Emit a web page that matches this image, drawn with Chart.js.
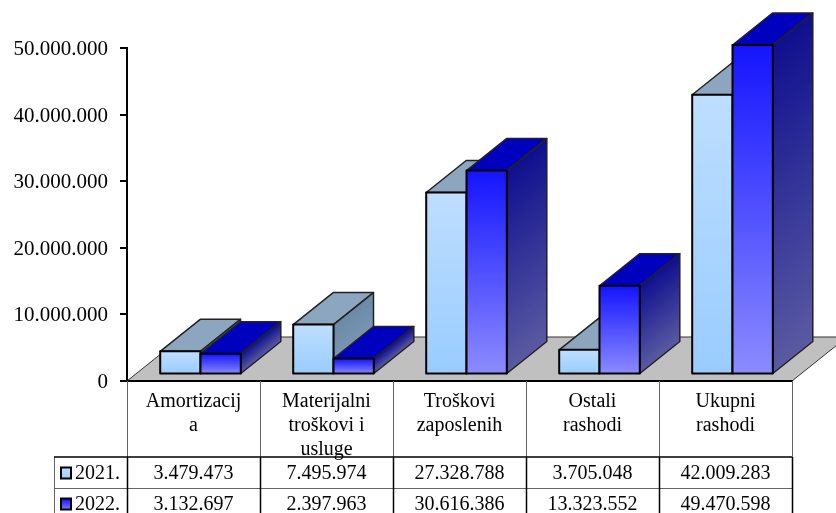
<!DOCTYPE html>
<html>
<head>
<meta charset="utf-8">
<style>
  html, body { margin: 0; padding: 0; background: #fff; }
  canvas { display: block; }
</style>
<script src="https://cdn.jsdelivr.net/npm/chart.js@4"></script>
</head>
<body>
<canvas id="chart" width="836" height="513"></canvas>
<script>
const categories = [['Amortizacij', 'a'], ['Materijalni', 'troškovi i', 'usluge'], ['Troškovi', 'zaposlenih'], ['Ostali', 'rashodi'], ['Ukupni', 'rashodi']];
const seriesNames = ['2021.', '2022.'];
const values2021 = [3479473, 7495974, 27328788, 3705048, 42009283];
const values2022 = [3132697, 2397963, 30616386, 13323552, 49470598];
const yTicks = [0, 10000000, 20000000, 30000000, 40000000, 50000000];

const FONT = "'Liberation Serif', 'Times New Roman', serif";
const DEPTH_X = 40, DEPTH_Y = 32;        // how far the boxes run back
const SHIFT_X = 7, SHIFT_Y = 6.5;        // boxes stand a bit inside the floor
const FLOOR_X = 55, FLOOR_Y = 44;

const colors = [
  { front: ['#bedeff', '#99ccff'], top: '#8ca6bf', side: ['#6a8aa8', '#7d9ab5'] },
  { front: ['#1414ff', '#8c8cff'], top: '#0000bf', side: ['#0f0f8f', '#5a5aa2'] },
];

const dots = v => String(v).replace(/\B(?=(\d{3})+$)/g, '.');

function frontFill(i) {
  return c => {
    const y = c.chart.scales.y;
    if (c.type !== 'data' || !y || !c.parsed) return colors[i].front[1];
    const y0 = y.getPixelForValue(c.parsed.y), y1 = y.getPixelForValue(0);
    if (!isFinite(y0) || !isFinite(y1)) return colors[i].front[1];
    const g = c.chart.ctx.createLinearGradient(0, y0, 0, y1);
    g.addColorStop(0, colors[i].front[0]);
    g.addColorStop(1, colors[i].front[1]);
    return g;
  };
}

function drawFaces(ctx, bar, c) {
  const right = bar.x + bar.width / 2, left = bar.x - bar.width / 2;
  const top = bar.y, base = bar.base;

  ctx.lineWidth = 1.5;
  ctx.lineJoin = 'round';
  ctx.strokeStyle = '#222';

  // top face
  ctx.beginPath();
  ctx.moveTo(left, top);
  ctx.lineTo(left + DEPTH_X, top - DEPTH_Y);
  ctx.lineTo(right + DEPTH_X, top - DEPTH_Y);
  ctx.lineTo(right, top);
  ctx.closePath();
  ctx.fillStyle = c.top;
  ctx.fill();
  ctx.stroke();

  // side face, shading follows the slant of the face
  const t = (base - top) / (DEPTH_Y * DEPTH_Y / DEPTH_X + DEPTH_X);
  const g = ctx.createLinearGradient(right, top, right + DEPTH_Y * t, top + DEPTH_X * t);
  g.addColorStop(0, c.side[0]);
  g.addColorStop(1, c.side[1]);
  ctx.beginPath();
  ctx.moveTo(right, top);
  ctx.lineTo(right + DEPTH_X, top - DEPTH_Y);
  ctx.lineTo(right + DEPTH_X, base - DEPTH_Y);
  ctx.lineTo(right, base);
  ctx.closePath();
  ctx.fillStyle = g;
  ctx.fill();
  ctx.stroke();
}

const floorPlugin = {
  id: 'floor',
  beforeDraw(chart) {
    const { ctx, chartArea: a } = chart;
    ctx.save();
    ctx.beginPath();
    ctx.moveTo(a.left, a.bottom);
    ctx.lineTo(a.left + FLOOR_X, a.bottom - FLOOR_Y);
    ctx.lineTo(a.right + FLOOR_X, a.bottom - FLOOR_Y);
    ctx.lineTo(a.right, a.bottom);
    ctx.closePath();
    ctx.fillStyle = '#c0c0c0';
    ctx.strokeStyle = '#333';
    ctx.lineWidth = 1;
    ctx.fill();
    ctx.stroke();
    ctx.restore();
  },
};

// bars are painted here so that 2021 goes under 2022
const boxPlugin = {
  id: 'boxes',
  beforeDatasetDraw() { return false; },
  beforeDatasetsDraw(chart) {
    const ctx = chart.ctx;
    ctx.save();
    ctx.translate(SHIFT_X, -SHIFT_Y);
    chart.data.datasets.forEach((ds, i) => {
      chart.getDatasetMeta(i).data.forEach(bar => {
        drawFaces(ctx, bar, colors[i]);
        bar.draw(ctx);
        // outline sits on the edge, so neighbours share one line
        ctx.strokeStyle = '#000';
        ctx.lineWidth = 2;
        ctx.strokeRect(bar.x - bar.width / 2, bar.y, bar.width, bar.base - bar.y);
      });
    });
    ctx.restore();
  },
};

const tablePlugin = {
  id: 'table',
  afterDraw(chart) {
    const { ctx, chartArea: a, scales } = chart;
    const cell = (a.right - a.left) / categories.length;
    const rows = [457, 488];
    ctx.save();

    // light verticals under the axis
    ctx.strokeStyle = '#666';
    ctx.lineWidth = 1;
    ctx.beginPath();
    for (let i = 0; i <= categories.length; i++) {
      ctx.moveTo(a.left + i * cell + 0.5, a.bottom);
      ctx.lineTo(a.left + i * cell + 0.5, rows[0]);
    }
    ctx.moveTo(54, rows[1] + 0.5);
    ctx.lineTo(a.right, rows[1] + 0.5);
    ctx.moveTo(54.5, rows[0]);
    ctx.lineTo(54.5, 513);
    ctx.stroke();

    // data rows
    ctx.strokeStyle = '#000';
    ctx.lineWidth = 1.5;
    ctx.beginPath();
    ctx.moveTo(54, rows[0]);
    ctx.lineTo(a.right, rows[0]);
    for (let i = 0; i <= categories.length; i++) {
      ctx.moveTo(a.left + i * cell + 0.5, rows[0]);
      ctx.lineTo(a.left + i * cell + 0.5, 513);
    }
    ctx.stroke();

    ctx.font = '20px ' + FONT;
    ctx.fillStyle = '#000';
    ctx.textBaseline = 'middle';
    chart.data.datasets.forEach((ds, r) => {
      const mid = r === 0 ? 474 : 505;
      // legend key
      const g = ctx.createLinearGradient(0, mid - 6, 0, mid + 6);
      g.addColorStop(0, colors[r].front[0]);
      g.addColorStop(1, colors[r].front[1]);
      ctx.fillStyle = g;
      ctx.fillRect(61, mid - 6.5, 10, 11);
      ctx.strokeStyle = '#000';
      ctx.lineWidth = 2;
      ctx.strokeRect(61, mid - 6.5, 10, 11);

      ctx.fillStyle = '#000';
      ctx.textAlign = 'left';
      ctx.fillText(seriesNames[r], 75, mid);
      ctx.textAlign = 'center';
      ds.data.forEach((v, i) => ctx.fillText(dots(v), scales.x.getPixelForValue(i), mid));
    });
    ctx.restore();
  },
};

new Chart(document.getElementById('chart'), {
  type: 'bar',
  data: {
    labels: categories,
    datasets: [
      { label: seriesNames[0], data: values2021, backgroundColor: frontFill(0), borderWidth: 0 },
      { label: seriesNames[1], data: values2022, backgroundColor: frontFill(1), borderWidth: 0 },
    ],
  },
  options: {
    responsive: false,
    animation: false,
    layout: { padding: { top: 48, right: 44 } },
    categoryPercentage: 0.606,
    barPercentage: 1,
    plugins: { legend: { display: false }, tooltip: { enabled: false } },
    scales: {
      x: {
        afterFit: s => { s.height = 132; },
        grid: { display: false },
        border: { display: true, color: '#000', width: 2 },
        ticks: {
          color: '#000',
          padding: 1,
          maxRotation: 0,
          autoSkip: false,
          font: { family: FONT, size: 20, lineHeight: 1.2 },
        },
      },
      y: {
        min: 0,
        max: 50000000,
        afterFit: s => { s.width = 127; },
        afterBuildTicks: s => { s.ticks = yTicks.map(value => ({ value })); },
        grid: { drawOnChartArea: false, color: '#000', tickLength: 7, lineWidth: 2 },
        border: { display: true, color: '#000', width: 2 },
        ticks: {
          color: '#000',
          padding: 12,
          labelOffset: 1.5,
          font: { family: FONT, size: 21 },
          callback: v => dots(v),
        },
      },
    },
  },
  plugins: [floorPlugin, boxPlugin, tablePlugin],
});
</script>
</body>
</html>
